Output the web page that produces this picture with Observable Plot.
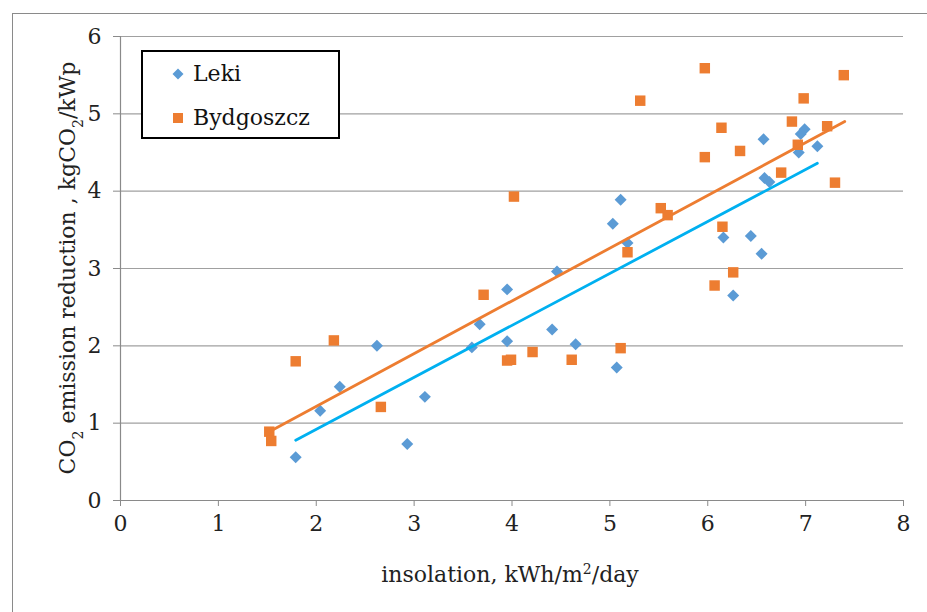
<!DOCTYPE html>
<html>
<head>
<meta charset="utf-8">
<script src="https://cdn.jsdelivr.net/npm/d3@7"></script>
<script src="https://cdn.jsdelivr.net/npm/@observablehq/plot@0.6"></script>
<style>
  html, body { margin: 0; padding: 0; background: #fff; overflow: hidden; }
  #wrap { position: relative; width: 927px; height: 612px; font-family: "DejaVu Serif", serif; }
  #frame { position: absolute; left: 12px; top: 13px; width: 960px; height: 660px; border: 1px solid #8a8a8a; box-sizing: border-box; pointer-events: none; }
  #legend { position: absolute; left: 141px; top: 50px; width: 199px; height: 89px; box-sizing: border-box; border: 2px solid #000; background: #fff; }
  .item { position: absolute; left: 29px; display: flex; align-items: center; font-size: 22px; color: #111; }
  .item svg { margin-right: 9px; }
</style>
</head>
<body>
<div id="wrap">
  <div id="chart"></div>
  <div id="frame"></div>
  <div id="legend"></div>
</div>
<script>
// Series: Leki (blue diamonds)
const lekiX = [1.79, 2.04, 2.24, 2.62, 2.93, 3.11, 3.59, 3.67, 3.95, 3.95, 4.41, 4.46, 4.65, 5.03, 5.07, 5.11, 5.18, 6.16, 6.26, 6.44, 6.55, 6.57, 6.58, 6.63, 6.93, 6.95, 6.99, 7.12];
const lekiY = [0.56, 1.16, 1.47, 2.00, 0.73, 1.34, 1.98, 2.28, 2.73, 2.06, 2.21, 2.96, 2.02, 3.58, 1.72, 3.89, 3.33, 3.40, 2.65, 3.42, 3.19, 4.67, 4.17, 4.12, 4.50, 4.74, 4.80, 4.58];
// Series: Bydgoszcz (orange squares)
const bydX = [1.52, 1.54, 1.79, 2.18, 2.66, 3.71, 3.95, 3.99, 4.02, 4.21, 4.61, 5.11, 5.18, 5.31, 5.52, 5.59, 5.97, 5.97, 6.07, 6.14, 6.15, 6.26, 6.33, 6.75, 6.86, 6.92, 6.98, 7.22, 7.30, 7.39];
const bydY = [0.89, 0.77, 1.80, 2.07, 1.21, 2.66, 1.81, 1.82, 3.93, 1.92, 1.82, 1.97, 3.21, 5.17, 3.78, 3.69, 5.59, 4.44, 2.78, 4.82, 3.54, 2.95, 4.52, 4.24, 4.90, 4.60, 5.20, 4.84, 4.11, 5.50];
// Linear trend lines (end points)
const lekiTrendX = [1.79, 7.12];
const lekiTrendY = [0.78, 4.36];
const bydTrendX = [1.52, 7.40];
const bydTrendY = [0.89, 4.90];
// Axis ticks
const xTicks = [0, 1, 2, 3, 4, 5, 6, 7, 8];
const yTicks = [0, 1, 2, 3, 4, 5, 6];
const seriesNames = ["Leki", "Bydgoszcz"];

const blue = "#5B9BD5", orange = "#ED7D31", trendBlue = "#00B0F0";
const leki = lekiX.map((x, i) => ({x, y: lekiY[i]}));
const byd = bydX.map((x, i) => ({x, y: bydY[i]}));
const lekiT = lekiTrendX.map((x, i) => ({x, y: lekiTrendY[i]}));
const bydT = bydTrendX.map((x, i) => ({x, y: bydTrendY[i]}));

const chart = Plot.plot({
  width: 927,
  height: 612,
  marginLeft: 120,
  marginRight: 24,
  marginTop: 36,
  marginBottom: 112,
  style: { fontFamily: "DejaVu Serif, serif", fontSize: "22px", background: "transparent", color: "#222" },
  x: { domain: [0, 8] },
  y: { domain: [0, 6] },
  marks: [
    Plot.gridY(yTicks.filter(d => d > 0), { stroke: "#a0a0a0", strokeOpacity: 1, strokeWidth: 1.2 }),
    Plot.ruleY([0], { stroke: "#8a8a8a", strokeWidth: 1.2 }),
    Plot.ruleX([0], { stroke: "#8a8a8a", strokeWidth: 1.2 }),
    Plot.axisX(xTicks, { tickSize: 6, tickPadding: 9, stroke: "#8a8a8a", fill: "#222", fontSize: 22, label: null, tickFormat: d => String(d) }),
    Plot.axisY(yTicks, { tickSize: 7, tickPadding: 12, stroke: "#8a8a8a", fill: "#222", fontSize: 22, label: null, tickFormat: d => String(d) }),
    Plot.dot(leki, { x: "x", y: "y", symbol: "diamond2", r: 5.4, fill: blue, stroke: "none" }),
    Plot.dot(byd, { x: "x", y: "y", symbol: "square", r: 5.9, fill: orange, stroke: "none" }),
    Plot.line(lekiT, { x: "x", y: "y", stroke: trendBlue, strokeWidth: 2.8 }),
    Plot.line(bydT, { x: "x", y: "y", stroke: orange, strokeWidth: 2.8 })
  ]
});
document.getElementById("chart").appendChild(chart);

// Axis titles with sub/superscripts
const svg = d3.select(chart);
const xt = svg.append("text")
  .attr("x", 510).attr("y", 582)
  .attr("text-anchor", "middle")
  .attr("font-family", "DejaVu Serif, serif")
  .attr("font-size", 22).attr("fill", "#222");
xt.append("tspan").text("insolation, kWh/m");
xt.append("tspan").attr("baseline-shift", "super").attr("font-size", 14).text("2");
xt.append("tspan").text("/day");

const yt = svg.append("text")
  .attr("transform", "translate(75,268) rotate(-90)")
  .attr("text-anchor", "middle")
  .attr("font-family", "DejaVu Serif, serif")
  .attr("font-size", 22).attr("fill", "#222");
yt.append("tspan").text("CO");
yt.append("tspan").attr("baseline-shift", "sub").attr("font-size", 14).text("2");
yt.append("tspan").text(" emission reduction , kgCO");
yt.append("tspan").attr("baseline-shift", "sub").attr("font-size", 14).text("2");
yt.append("tspan").text("/kWp");

// Legend
const legend = document.getElementById("legend");
const items = [
  { name: seriesNames[0], color: blue, shape: "diamond", top: 9 },
  { name: seriesNames[1], color: orange, shape: "square", top: 53 }
];
for (const it of items) {
  const div = document.createElement("div");
  div.className = "item";
  div.style.top = it.top + "px";
  const shape = it.shape === "diamond"
    ? `<svg width="12" height="12"><path d="M6,0.5L11.5,6L6,11.5L0.5,6Z" fill="${it.color}"/></svg>`
    : `<svg width="12" height="12"><rect x="1" y="1" width="10" height="10" fill="${it.color}"/></svg>`;
  div.innerHTML = shape + `<span>${it.name}</span>`;
  legend.appendChild(div);
}
</script>
</body>
</html>
